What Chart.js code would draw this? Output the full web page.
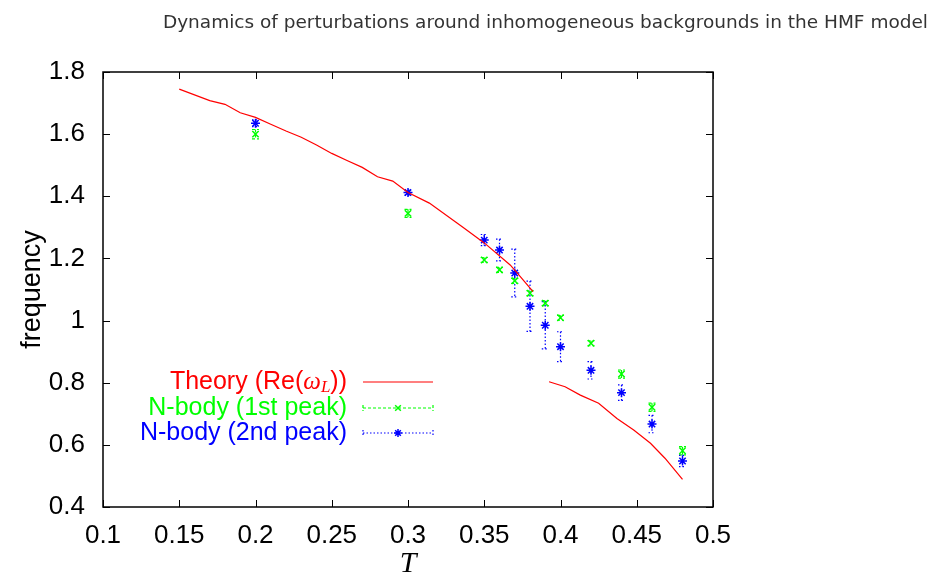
<!DOCTYPE html>
<html>
<head>
<meta charset="utf-8">
<script src="https://cdn.jsdelivr.net/npm/chart.js@4.4.0/dist/chart.umd.min.js"></script>
<style>
  body { margin: 0; background: #fff; }
  #wrap { position: relative; width: 930px; height: 578px; }
  #header { position: absolute; right: 2px; top: 13px; font-family: 'DejaVu Sans'; font-size: 18.5px; line-height: 1; color: #333; white-space: nowrap; }
</style>
</head>
<body>
<div id="wrap">
  <div id="header">Dynamics of perturbations around inhomogeneous backgrounds in the HMF model</div>
  <canvas id="myChart" width="930" height="578"></canvas>
</div>
<script>
// theory curve Re(omega_L), null splits the two branches
var theoryT = [0.15, 0.17, 0.18, 0.19, 0.20, 0.21, 0.22, 0.23, 0.24, 0.25, 0.26, 0.27, 0.28, 0.29, 0.30,
  0.314, 0.331, 0.336, 0.35, 0.367, 0.371, 0.382, 0.386,
  0.3925, 0.403, 0.413, 0.425, 0.437, 0.448, 0.459, 0.4685, 0.48];
var theoryW = [1.745, 1.708, 1.696, 1.669, 1.654, 1.632, 1.610, 1.590, 1.565, 1.538, 1.515, 1.493, 1.463, 1.449, 1.412,
  1.378, 1.318, 1.300, 1.250, 1.179, 1.157, 1.093, null,
  0.803, 0.787, 0.760, 0.734, 0.685, 0.648, 0.605, 0.557, 0.489];

// N-body measurements
var nbodyT = [0.20, 0.30, 0.35, 0.36, 0.37, 0.38, 0.39, 0.40, 0.42, 0.44, 0.46, 0.48];
var peak1 = [1.600, 1.345, 1.195, 1.163, 1.128, 1.088, 1.056, 1.009, 0.927, 0.828, 0.721, 0.581];
var peak1Err = [0.015, 0.013, 0.008, 0.008, 0.008, 0.008, 0.008, 0.008, 0.008, 0.013, 0.013, 0.013];
var peak2 = [1.635, 1.412, 1.259, 1.227, 1.153, 1.046, 0.985, 0.916, 0.840, 0.768, 0.667, 0.548];
var peak2Err = [0.011, 0.008, 0.018, 0.035, 0.077, 0.081, 0.076, 0.048, 0.028, 0.025, 0.028, 0.018];

var xTicks = [0.1, 0.15, 0.2, 0.25, 0.3, 0.35, 0.4, 0.45, 0.5];
var yTicks = [0.4, 0.6, 0.8, 1, 1.2, 1.4, 1.6, 1.8];

var RED = '#ff0000', GREEN = '#00ff00', BLUE = '#0000ff';
var SANS = "'Liberation Sans', Arial, sans-serif";

function pts(xs, ys) {
  return xs.map(function (x, i) { return { x: x, y: ys[i] }; });
}

// gnuplot style frame with inward ticks on all four sides
var frame = {
  id: 'frame',
  afterDraw: function (chart) {
    var ctx = chart.ctx, a = chart.chartArea;
    var sx = chart.scales.x, sy = chart.scales.y;
    ctx.save();
    ctx.strokeStyle = '#000';
    ctx.lineWidth = 1;
    xTicks.forEach(function (v) {
      var px = Math.round(sx.getPixelForValue(v)) + 0.5;
      ctx.beginPath();
      ctx.moveTo(px, a.bottom); ctx.lineTo(px, a.bottom - 7);
      ctx.moveTo(px, a.top); ctx.lineTo(px, a.top + 7);
      ctx.stroke();
    });
    yTicks.forEach(function (v) {
      var py = Math.round(sy.getPixelForValue(v)) + 0.5;
      ctx.beginPath();
      ctx.moveTo(a.left, py); ctx.lineTo(a.left + 7, py);
      ctx.moveTo(a.right, py); ctx.lineTo(a.right - 7, py);
      ctx.stroke();
    });
    ctx.lineWidth = 1.5;
    ctx.strokeRect(a.left, a.top, a.right - a.left, a.bottom - a.top);
    ctx.restore();
  }
};

function errLine(ctx, x, y1, y2, cap) {
  ctx.beginPath();
  ctx.moveTo(x, y1); ctx.lineTo(x, y2);
  ctx.moveTo(x - cap, y1); ctx.lineTo(x + cap, y1);
  ctx.moveTo(x - cap, y2); ctx.lineTo(x + cap, y2);
  ctx.stroke();
}

var errorBars = {
  id: 'errorBars',
  beforeDatasetsDraw: function (chart) {
    var ctx = chart.ctx, sx = chart.scales.x, sy = chart.scales.y;
    var sets = [[peak1, peak1Err, GREEN, [3, 2]], [peak2, peak2Err, BLUE, [1.5, 2]]];
    ctx.save();
    ctx.lineWidth = 1.2;
    sets.forEach(function (s) {
      ctx.strokeStyle = s[2];
      ctx.setLineDash(s[3]);
      nbodyT.forEach(function (t, i) {
        var px = sx.getPixelForValue(t);
        errLine(ctx, px, sy.getPixelForValue(s[0][i] + s[1][i]), sy.getPixelForValue(s[0][i] - s[1][i]), 3.5);
      });
    });
    ctx.restore();
  }
};

// key drawn the gnuplot way: right aligned text, sample to the right
var keyBox = {
  id: 'keyBox',
  afterDraw: function (chart) {
    var ctx = chart.ctx, a = chart.chartArea;
    var textRight = a.left + 244, s0 = a.left + 260, s1 = a.left + 330;
    var rows = [a.top + 310, a.top + 336, a.top + 361];
    var font = '25px ' + SANS;
    ctx.save();
    ctx.textBaseline = 'middle';

    // Theory (Re(omega_L))
    var parts = [
      { t: 'Theory (Re(', f: font, dy: 0 },
      { t: 'ω', f: "italic 25px 'Liberation Serif', serif", dy: 0 },
      { t: 'L', f: "italic 17px 'Liberation Serif', serif", dy: 6 },
      { t: '))', f: font, dy: 0 }
    ];
    var w = 0;
    parts.forEach(function (p) { ctx.font = p.f; p.w = ctx.measureText(p.t).width; w += p.w; });
    var x = textRight - w;
    ctx.fillStyle = RED;
    ctx.textAlign = 'left';
    parts.forEach(function (p) { ctx.font = p.f; ctx.fillText(p.t, x, rows[0] + p.dy); x += p.w; });

    ctx.font = font;
    ctx.textAlign = 'right';
    ctx.fillStyle = GREEN;
    ctx.fillText('N-body (1st peak)', textRight, rows[1]);
    ctx.fillStyle = BLUE;
    ctx.fillText('N-body (2nd peak)', textRight, rows[2]);

    ctx.lineWidth = 1.2;
    ctx.strokeStyle = RED;
    ctx.beginPath(); ctx.moveTo(s0, rows[0]); ctx.lineTo(s1, rows[0]); ctx.stroke();

    [[rows[1], GREEN, [3, 2], 'crossRot'], [rows[2], BLUE, [1.5, 2], 'star']].forEach(function (r) {
      ctx.strokeStyle = r[1];
      ctx.setLineDash(r[2]);
      ctx.beginPath();
      ctx.moveTo(s0, r[0]); ctx.lineTo(s1, r[0]);
      ctx.moveTo(s0, r[0] - 3); ctx.lineTo(s0, r[0] + 3);
      ctx.moveTo(s1, r[0] - 3); ctx.lineTo(s1, r[0] + 3);
      ctx.stroke();
      ctx.setLineDash([]);
      ctx.lineWidth = 1.5;
      Chart.helpers.drawPoint(ctx, { pointStyle: r[3], radius: 4, rotation: 0, borderWidth: 1.5 }, (s0 + s1) / 2, r[0]);
      ctx.lineWidth = 1.2;
    });
    ctx.restore();
  }
};

var ctx = document.getElementById('myChart');
var chart = new Chart(ctx, {
  type: 'scatter',
  data: {
    datasets: [
      {
        label: 'Theory',
        data: pts(theoryT, theoryW),
        showLine: true,
        spanGaps: false,
        borderColor: RED,
        borderWidth: 1.2,
        pointRadius: 0,
        tension: 0
      },
      {
        label: 'N-body (1st peak)',
        data: pts(nbodyT, peak1),
        showLine: false,
        pointStyle: 'crossRot',
        pointRadius: 4.5,
        borderColor: GREEN,
        backgroundColor: GREEN,
        pointBorderWidth: 1.5
      },
      {
        label: 'N-body (2nd peak)',
        data: pts(nbodyT, peak2),
        showLine: false,
        pointStyle: 'star',
        pointRadius: 4.5,
        borderColor: BLUE,
        backgroundColor: BLUE,
        pointBorderWidth: 1.5
      }
    ]
  },
  options: {
    responsive: false,
    animation: false,
    layout: { padding: { left: 0, right: 217, top: 72, bottom: 0 } },
    plugins: {
      legend: { display: false },
      tooltip: { enabled: false }
    },
    scales: {
      x: {
        type: 'linear',
        min: 0.1,
        max: 0.5,
        afterBuildTicks: function (scale) { scale.ticks = xTicks.map(function (v) { return { value: v }; }); },
        afterFit: function (scale) { scale.height = 71; },
        grid: { display: false },
        border: { display: false },
        ticks: { color: '#000', padding: 5, maxRotation: 0, font: { family: SANS, size: 26 },
          callback: function (v) { return String(v); } },
        title: { display: true, text: 'T', color: '#000', padding: { top: 0, bottom: 0 },
          font: { family: "'Liberation Serif', serif", style: 'italic', size: 30, lineHeight: 0.9 } }
      },
      y: {
        min: 0.4,
        max: 1.8,
        afterBuildTicks: function (scale) { scale.ticks = yTicks.map(function (v) { return { value: v }; }); },
        afterFit: function (scale) { scale.width = 103; },
        grid: { display: false },
        border: { display: false },
        ticks: { color: '#000', padding: 10, font: { family: SANS, size: 26 },
          callback: function (v) { return String(v); } },
        title: { display: true, text: 'frequency', color: '#000', padding: { top: 19, bottom: 0 },
          font: { family: SANS, size: 27, lineHeight: 1 } }
      }
    }
  },
  plugins: [errorBars, frame, keyBox]
});
</script>
</body>
</html>
